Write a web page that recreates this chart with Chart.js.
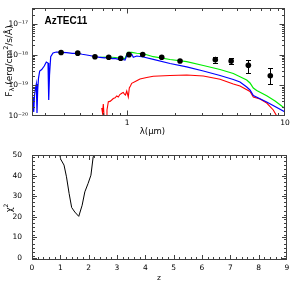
<!DOCTYPE html>
<html><head><meta charset="utf-8">
<script src="https://cdn.jsdelivr.net/npm/chart.js@4.4.1/dist/chart.umd.min.js"></script>
<style>
html,body{margin:0;padding:0;background:#fff;overflow:hidden}
#w1{position:absolute;left:0;top:0;width:302px;height:140px}
#w2{position:absolute;left:0;top:140px;width:302px;height:154px}
</style></head><body>
<div id="w1"><canvas id="c1" width="302" height="140"></canvas></div>
<div id="w2"><canvas id="c2" width="302" height="154"></canvas></div>
<script>
// ---------- SED panel data ----------
const sedTitle = 'AzTEC11';
const blueLam = [0.250,0.2537,0.2564,0.2594,0.2632,0.2662,0.2689,0.2716,0.2749,0.2797,0.288,0.299,0.308,0.3157,0.3190,0.3227,0.3284,0.3396,0.3563,0.3817,0.4147,0.45,0.4867,0.52,0.555,0.59,0.626,0.674,0.72,0.765,0.80,0.839,0.88,0.911,0.970,1.009,1.040,1.070,1.095,1.151,1.267,1.466,1.870,2.386,3.039,3.878,4.707,5.189,5.721,6.003,6.300,7.659,10.0];
const blueFlux = [2.28e-20,4.17e-20,1.35e-20,4.84e-20,8.18e-20,1.10e-19,1.25e-20,7.05e-20,1.73e-19,2.93e-19,3.28e-19,4.27e-19,5.76e-19,5.35e-19,3.33e-20,2.17e-19,8.57e-19,1.13e-18,1.22e-18,1.19e-18,1.16e-18,1.10e-18,1.11e-18,1.03e-18,9.75e-19,9.2e-19,8.57e-19,8.2e-19,7.9e-19,8.2e-19,7.4e-19,7.6e-19,7.0e-19,7.21e-19,6.7e-19,1.11e-18,9.6e-19,1.03e-18,8.2e-19,9.04e-19,8.4e-19,7.06e-19,5.15e-19,4.0e-19,2.93e-19,2.09e-19,1.55e-19,1.28e-19,8.83e-20,7.05e-20,4.66e-20,2.86e-20,1.35e-20];
const greenLam = [0.674,0.765,0.839,0.911,0.970,1.009,1.070,1.151,1.267,1.466,1.870,2.386,3.039,3.878,4.707,5.189,5.721,6.003,6.300,6.62,7.659,8.65,10.0];
const greenFlux = [8.2e-19,8.4e-19,8.07e-19,7.78e-19,7.5e-19,1.19e-18,1.19e-18,1.11e-18,1.07e-18,8.57e-19,6.95e-19,5.89e-19,4.43e-19,3.28e-19,2.43e-19,1.91e-19,1.49e-19,1.19e-19,8.18e-20,6.78e-20,4.56e-20,3.09e-20,1.76e-20];
const redLam = [0.691,0.699,0.707,0.716,0.736,0.746,0.761,0.780,0.799,0.818,0.840,0.860,0.880,0.900,0.925,0.946,0.962,0.977,0.995,1.018,1.033,1.050,1.070,1.151,1.207,1.331,1.466,1.870,2.386,3.039,3.878,4.707,5.189,6.003,6.300,6.946,7.659,8.43,8.97];
const redFlux = [1.82e-20,1.25e-20,2.46e-20,9e-21,9e-21,1.57e-20,2.92e-20,3.0e-20,3.33e-20,3.72e-20,3.9e-20,4.49e-20,4.17e-20,5.0e-20,5.5e-20,5.83e-20,5.2e-20,4.84e-20,6.53e-20,4.17e-20,8.18e-20,9.5e-20,1.16e-19,1.42e-19,1.61e-19,1.8e-19,1.97e-19,2.09e-19,2.17e-19,2.01e-19,1.57e-19,1.1e-19,9.5e-20,6.29e-20,4.17e-20,3.58e-20,2.65e-20,1.57e-20,9e-21];
const obsLam = [0.382,0.487,0.626,0.765,0.911,1.028,1.256,1.657,2.164,3.62,4.56,5.86,8.07];
const obsFlux = [1.18e-18,1.12e-18,8.57e-19,8.2e-19,7.6e-19,1.0e-18,1.01e-18,8.2e-19,6.21e-19,6.85e-19,6.21e-19,4.53e-19,2.05e-19];
const obsErrLo = [null,null,null,null,null,null,null,null,null,5.47e-19,4.95e-19,2.47e-19,1.08e-19];
const obsErrHi = [null,null,null,null,null,null,null,null,null,8.57e-19,7.78e-19,6.7e-19,3.59e-19];
const sedXTicks = [1, 10];
const sedXTickLabels = ['1', '10'];
const sedXMinor = [0.3,0.4,0.5,0.6,0.7,0.8,0.9,2,3,4,5,6,7,8,9];
const sedYTicks = [1e-20, 1e-19, 1e-18, 1e-17];
const sedYTickLabels = ['10\u207B\u00B2\u2070','10\u207B\u00B9\u2079','10\u207B\u00B9\u2078','10\u207B\u00B9\u2077'];
const sedYMinor = [2e-20,3e-20,4e-20,5e-20,6e-20,7e-20,8e-20,9e-20,2e-19,3e-19,4e-19,5e-19,6e-19,7e-19,8e-19,9e-19,2e-18,3e-18,4e-18,5e-18,6e-18,7e-18,8e-18,9e-18,2e-17,3e-17];

// ---------- chi2 panel data ----------
const zVals = [0.98,1.015,1.13,1.217,1.31,1.40,1.51,1.65,1.77,1.865,1.98,2.08,2.16,2.18];
const chi2Vals = [50,47.9,45.1,39.4,31.3,24.5,22.3,20.2,25.6,32.1,36.2,40.2,49.2,50];
const chiXTicks = [0,1,2,3,4,5,6,7,8,9];
const chiXTickLabels = ['0','1','2','3','4','5','6','7','8','9'];
const chiXMinorStep = 0.2;
const chiYTicks = [0,10,20,30,40,50];
const chiYTickLabels = ['0','10','20','30','40','50'];
const chiYMinorStep = 2;

// ---------- style ----------
const frameColor = '#404040';
const tickFont = {family: 'DejaVu Sans', size: 7.5};
const pts = (xs, ys) => xs.map((v, i) => ({x: v, y: ys[i]}));

function frameTicks(chart, xMaj, xMin, yMaj, yMin, majLen, minLen) {
  const {ctx, chartArea: a, scales} = chart;
  const xs = scales.x, ys = scales.y;
  const L = Math.round(a.left) + 0.5, R = Math.round(a.right) - 0.5;
  const T = Math.round(a.top) + 0.5, B = Math.round(a.bottom) - 0.5;
  ctx.save();
  ctx.strokeStyle = frameColor; ctx.lineWidth = 1;
  ctx.beginPath();
  const vt = (v, len) => {
    const p = Math.round(xs.getPixelForValue(v)) + 0.5;
    if (p < L - 0.1 || p > R + 0.6) return;
    ctx.moveTo(p, B); ctx.lineTo(p, B - len);
    ctx.moveTo(p, T); ctx.lineTo(p, T + len);
  };
  const ht = (v, len) => {
    const p = Math.round(ys.getPixelForValue(v)) + 0.5;
    if (p < T - 0.6 || p > B + 0.6) return;
    ctx.moveTo(L, p); ctx.lineTo(L + len, p);
    ctx.moveTo(R, p); ctx.lineTo(R - len, p);
  };
  xMaj.forEach(v => vt(v, majLen));
  xMin.forEach(v => vt(v, minLen));
  yMaj.forEach(v => ht(v, majLen));
  yMin.forEach(v => ht(v, minLen));
  ctx.stroke();
  ctx.strokeRect(L, T, R - L, B - T);
  ctx.restore();
}

const sedPlugin = {
  id: 'sedDecor',
  beforeDatasetsDraw(chart) {
    const {ctx, scales: {x, y}} = chart;
    ctx.save();
    ctx.strokeStyle = '#000'; ctx.lineWidth = 1;
    ctx.beginPath();
    obsLam.forEach((l, i) => {
      if (obsErrLo[i] == null) return;
      const px = Math.round(x.getPixelForValue(l)) + 0.5;
      const y1 = y.getPixelForValue(obsErrLo[i]);
      const y2 = y.getPixelForValue(obsErrHi[i]);
      ctx.moveTo(px, y1); ctx.lineTo(px, y2);
      ctx.moveTo(px - 2.5, Math.round(y1) + 0.5); ctx.lineTo(px + 2.5, Math.round(y1) + 0.5);
      ctx.moveTo(px - 2.5, Math.round(y2) + 0.5); ctx.lineTo(px + 2.5, Math.round(y2) + 0.5);
    });
    ctx.stroke();
    ctx.restore();
  },
  afterDraw(chart) {
    const ctx = chart.ctx;
    frameTicks(chart, sedXTicks, sedXMinor, sedYTicks, sedYMinor, 5, 2.5);
    ctx.save();
    ctx.fillStyle = '#000';
    ctx.font = 'bold 10px "Liberation Sans", Arial, sans-serif';
    ctx.textAlign = 'left'; ctx.textBaseline = 'alphabetic';
    ctx.fillText(sedTitle, 44.5, 24);
    ctx.font = '8.5px "DejaVu Sans"';
    ctx.textAlign = 'center';
    ctx.fillText('\u03BB(\u03BCm)', 152.5, 134);
    // y title rotated with subscript/superscript
    ctx.translate(9.5, 61);
    ctx.rotate(-Math.PI / 2);
    const big = '9px "DejaVu Sans"', small = '6.5px "DejaVu Sans"';
    const parts = [['F', big, 0], ['\u03BB', small, 2.5], [' (erg/cm', big, 0], ['2', small, -3.5], ['/s/\u00C5)', big, 0]];
    let w = 0;
    parts.forEach(p => { ctx.font = p[1]; w += ctx.measureText(p[0]).width; });
    let cx = -w / 2;
    ctx.textAlign = 'left'; ctx.textBaseline = 'middle';
    parts.forEach(p => { ctx.font = p[1]; ctx.fillText(p[0], cx, p[2]); cx += ctx.measureText(p[0]).width; });
    ctx.restore();
  }
};

new Chart(document.getElementById('c1'), {
  type: 'scatter',
  data: {datasets: [
    {label: 'data', data: pts(obsLam, obsFlux), order: 0, pointRadius: 2.8, pointBackgroundColor: '#000', pointBorderWidth: 0, showLine: false},
    {label: 'blue', data: pts(blueLam, blueFlux), order: 1, showLine: true, borderColor: '#0000ff', borderWidth: 1.2, pointRadius: 0, tension: 0},
    {label: 'green', data: pts(greenLam, greenFlux), order: 2, showLine: true, borderColor: '#00ee00', borderWidth: 1.2, pointRadius: 0, tension: 0},
    {label: 'red', data: pts(redLam, redFlux), order: 3, showLine: true, borderColor: '#ff0000', borderWidth: 1.1, pointRadius: 0, tension: 0}
  ]},
  options: {
    responsive: false, animation: false, devicePixelRatio: 1,
    layout: {padding: {left: 0, right: 17, top: 8, bottom: 0}},
    plugins: {legend: {display: false}, tooltip: {enabled: false}},
    scales: {
      x: {type: 'logarithmic', min: 0.25, max: 10,
        afterFit(s) { s.height = 24; s.paddingLeft = 0; s.paddingRight = 0; },
        afterBuildTicks(s) { s.ticks = sedXTicks.map(v => ({value: v})); },
        ticks: {autoSkip: false, maxRotation: 0, padding: 3, color: '#000', font: tickFont, callback: (v, i) => sedXTickLabels[i]},
        grid: {display: false, drawTicks: false}, border: {display: false}},
      y: {type: 'logarithmic', min: 1e-20, max: 3.32e-17,
        afterFit(s) { s.width = 32; s.paddingTop = 0; s.paddingBottom = 0; },
        afterBuildTicks(s) { s.ticks = sedYTicks.map(v => ({value: v})); },
        ticks: {autoSkip: false, padding: 4, color: '#000', font: {family: 'DejaVu Sans', size: 7.5}, callback: (v, i) => sedYTickLabels[i]},
        grid: {display: false, drawTicks: false}, border: {display: false}}
    }
  },
  plugins: [sedPlugin]
});

const chiPlugin = {
  id: 'chiDecor',
  afterDraw(chart) {
    const ctx = chart.ctx;
    const xMin = [], yMin = [];
    for (let v = chiXTicks[0]; v <= chiXTicks[chiXTicks.length - 1] + 1e-9; v += chiXMinorStep) {
      if (Math.abs(v - Math.round(v)) > 1e-6) xMin.push(v);
    }
    for (let v = -chiYMinorStep / 2; v <= chiYTicks[chiYTicks.length - 1]; v += chiYMinorStep) {
      const r = Math.round(v);
      if (r % 10 !== 0 && r >= 0) yMin.push(r);
    }
    frameTicks(chart, chiXTicks, xMin, chiYTicks, yMin, 4.5, 2.5);
    ctx.save();
    ctx.fillStyle = '#000';
    ctx.font = '7.5px "DejaVu Sans"';
    ctx.textAlign = 'center'; ctx.textBaseline = 'middle';
    ctx.fillText('z', 159, 138);
    ctx.translate(9.5, 68);
    ctx.rotate(-Math.PI / 2);
    ctx.font = '8.5px "DejaVu Sans"';
    ctx.textAlign = 'left';
    const w1 = ctx.measureText('\u03C7').width;
    ctx.font = '6px "DejaVu Sans"';
    const w2 = ctx.measureText('2').width;
    ctx.font = '8.5px "DejaVu Sans"';
    ctx.fillText('\u03C7', -(w1 + w2) / 2, 0);
    ctx.font = '6px "DejaVu Sans"';
    ctx.fillText('2', -(w1 + w2) / 2 + w1, -3);
    ctx.restore();
  }
};

new Chart(document.getElementById('c2'), {
  type: 'scatter',
  data: {datasets: [
    {label: 'chi2', data: pts(zVals, chi2Vals), showLine: true, borderColor: '#000', borderWidth: 1, pointRadius: 0, tension: 0}
  ]},
  options: {
    responsive: false, animation: false, devicePixelRatio: 1,
    layout: {padding: {left: 0, right: 15, top: 15, bottom: 0}},
    plugins: {legend: {display: false}, tooltip: {enabled: false}},
    scales: {
      x: {type: 'linear', min: 0, max: 9,
        afterFit(s) { s.height = 34; s.paddingLeft = 0; s.paddingRight = 0; },
        afterBuildTicks(s) { s.ticks = chiXTicks.map(v => ({value: v})); },
        ticks: {autoSkip: false, maxRotation: 0, padding: 4, color: '#000', font: tickFont, callback: (v, i) => chiXTickLabels[i]},
        grid: {display: false, drawTicks: false}, border: {display: false}},
      y: {type: 'linear', min: -1, max: 50,
        afterFit(s) { s.width = 32; s.paddingTop = 0; s.paddingBottom = 0; },
        afterBuildTicks(s) { s.ticks = chiYTicks.map(v => ({value: v})); },
        ticks: {autoSkip: false, padding: 10, color: '#000', font: tickFont, callback: (v, i) => chiYTickLabels[i]},
        grid: {display: false, drawTicks: false}, border: {display: false}}
    }
  },
  plugins: [chiPlugin]
});
</script>
</body></html>
